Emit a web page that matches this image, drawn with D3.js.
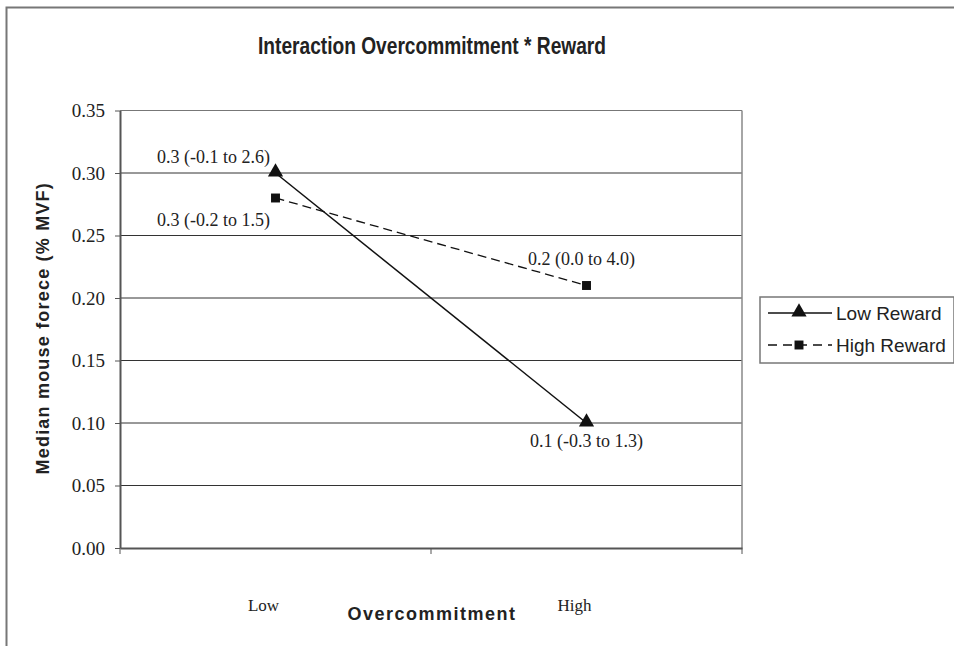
<!DOCTYPE html>
<html>
<head>
<meta charset="utf-8">
<script src="https://cdn.jsdelivr.net/npm/d3@7"></script>
<style>
  body { margin: 0; background: #fff; }
</style>
</head>
<body>
<script>
// chart values
var categories = ["Low", "High"];
var seriesNames = ["Low Reward", "High Reward"];
var lowReward = [0.30, 0.10];
var highReward = [0.28, 0.21];
var lowRewardLabels = ["0.3 (-0.1 to 2.6)", "0.1 (-0.3 to 1.3)"];
var highRewardLabels = ["0.3 (-0.2 to 1.5)", "0.2 (0.0 to 4.0)"];
var yTicks = [0, 0.05, 0.10, 0.15, 0.20, 0.25, 0.30, 0.35];

var svgWidth = 954;
var svgHeight = 646;
var margin = { top: 110.5, right: 212, bottom: 98, left: 120 };
var width = svgWidth - margin.left - margin.right;
var height = svgHeight - margin.top - margin.bottom;

var svg = d3.select("body")
  .append("svg")
  .attr("width", svgWidth)
  .attr("height", svgHeight);

// outer frame
svg.append("rect")
  .attr("x", 6.5).attr("y", 7.5)
  .attr("width", 960).attr("height", 660)
  .attr("fill", "none")
  .attr("stroke", "#777")
  .attr("stroke-width", 2);

svg.append("text")
  .attr("x", 432).attr("y", 54)
  .attr("text-anchor", "middle")
  .attr("textLength", 348)
  .attr("lengthAdjust", "spacingAndGlyphs")
  .style("font-family", "Liberation Sans, Arial, sans-serif")
  .style("font-weight", "bold")
  .style("font-size", "23px")
  .attr("fill", "#222")
  .text("Interaction Overcommitment * Reward");

var g = svg.append("g")
  .attr("transform", "translate(" + margin.left + "," + margin.top + ")");

var x = d3.scaleBand().domain(categories).range([0, width]);
var y = d3.scaleLinear().domain([0, 0.35]).range([height, 0]);

// gridlines
g.selectAll(".grid")
  .data(yTicks.filter(function (d) { return d > 0; }))
  .enter()
  .append("line")
  .attr("x1", 0).attr("x2", width)
  .attr("y1", function (d) { return y(d); })
  .attr("y2", function (d) { return y(d); })
  .attr("stroke", function (d) { return d === 0.35 ? "#777" : "#333"; })
  .attr("stroke-width", 1);

// plot frame (right edge)
g.append("line")
  .attr("x1", width).attr("x2", width)
  .attr("y1", 0).attr("y2", height)
  .attr("stroke", "#888").attr("stroke-width", 1.5);

var leftAxis = d3.axisLeft(y)
  .tickValues(yTicks)
  .tickFormat(d3.format(".2f"))
  .tickSize(5)
  .tickSizeOuter(0);

var yAxis = g.append("g").call(leftAxis);
yAxis.select(".domain").attr("stroke", "#555").attr("stroke-width", 2);
yAxis.selectAll(".tick line").attr("stroke", "#555");
yAxis.selectAll(".tick text")
  .attr("x", -15)
  .style("font-family", "Liberation Serif, Times New Roman, serif")
  .style("font-size", "19px")
  .attr("fill", "#222");

var bottomAxis = d3.axisBottom(x).tickSize(0).tickSizeOuter(0);
var xAxis = g.append("g")
  .attr("transform", "translate(0," + height + ")")
  .call(bottomAxis);
xAxis.select(".domain").attr("stroke", "#555").attr("stroke-width", 2);
xAxis.selectAll(".tick text")
  .attr("dx", -12)
  .attr("y", 51)
  .style("font-family", "Liberation Serif, Times New Roman, serif")
  .style("font-size", "17px")
  .attr("fill", "#222");

// category separator ticks
g.selectAll(".sep")
  .data(categories.concat(["end"]))
  .enter()
  .append("line")
  .attr("x1", function (d, i) { return i * x.bandwidth(); })
  .attr("x2", function (d, i) { return i * x.bandwidth(); })
  .attr("y1", height).attr("y2", height + 6)
  .attr("stroke", "#555");

var cx = function (d, i) { return x(categories[i]) + x.bandwidth() / 2; };

var line = d3.line()
  .x(function (d, i) { return cx(d, i); })
  .y(function (d) { return y(d); });

g.append("path")
  .datum(lowReward)
  .attr("d", line)
  .attr("fill", "none")
  .attr("stroke", "#111")
  .attr("stroke-width", 1.5);

g.append("path")
  .datum(highReward)
  .attr("d", line)
  .attr("fill", "none")
  .attr("stroke", "#111")
  .attr("stroke-width", 1.3)
  .attr("stroke-dasharray", "9,5");

var tri = d3.symbol().type(d3.symbolTriangle).size(100);
var sq = d3.symbol().type(d3.symbolSquare).size(80);

g.selectAll(".tri")
  .data(lowReward)
  .enter()
  .append("path")
  .attr("d", tri)
  .attr("transform", function (d, i) { return "translate(" + cx(d, i) + "," + (y(d) - 1) + ")"; })
  .attr("fill", "#111");

g.selectAll(".sq")
  .data(highReward)
  .enter()
  .append("path")
  .attr("d", sq)
  .attr("transform", function (d, i) { return "translate(" + cx(d, i) + "," + y(d) + ")"; })
  .attr("fill", "#111");

// value labels
var labelFont = function (sel) {
  sel.attr("text-anchor", "middle")
    .style("font-family", "Liberation Serif, Times New Roman, serif")
    .style("font-size", "18px")
    .attr("fill", "#222");
};

g.selectAll(".lowLab")
  .data(lowReward)
  .enter()
  .append("text")
  .attr("x", function (d, i) { return i === 0 ? cx(d, i) - 62 : cx(d, i); })
  .attr("y", function (d, i) { return i === 0 ? y(d) - 10 : y(d) + 24; })
  .text(function (d, i) { return lowRewardLabels[i]; })
  .call(labelFont);

g.selectAll(".highLab")
  .data(highReward)
  .enter()
  .append("text")
  .attr("x", function (d, i) { return i === 0 ? cx(d, i) - 62 : cx(d, i) - 5; })
  .attr("y", function (d, i) { return i === 0 ? y(d) + 28 : y(d) - 21; })
  .text(function (d, i) { return highRewardLabels[i]; })
  .call(labelFont);

// axis titles
svg.append("text")
  .attr("transform", "rotate(-90)")
  .attr("x", -(margin.top + height / 2) + 1)
  .attr("y", 49)
  .attr("text-anchor", "middle")
  .style("font-family", "Liberation Sans, Arial, sans-serif")
  .style("font-weight", "bold")
  .style("font-size", "18px")
  .style("letter-spacing", "1.2px")
  .attr("fill", "#222")
  .text("Median mouse forece (% MVF)");

svg.append("text")
  .attr("x", 432)
  .attr("y", 620)
  .attr("text-anchor", "middle")
  .style("font-family", "Liberation Sans, Arial, sans-serif")
  .style("font-weight", "bold")
  .style("font-size", "18px")
  .style("letter-spacing", "1.5px")
  .attr("fill", "#222")
  .text("Overcommitment");

// legend
var legend = svg.append("g").attr("transform", "translate(760,297)");
legend.append("rect")
  .attr("width", 194).attr("height", 66)
  .attr("fill", "#fff")
  .attr("stroke", "#777").attr("stroke-width", 1.5);

seriesNames.forEach(function (name, i) {
  var ly = 16 + i * 32;
  legend.append("line")
    .attr("x1", 8).attr("x2", 72)
    .attr("y1", ly).attr("y2", ly)
    .attr("stroke", "#111")
    .attr("stroke-width", 1.3)
    .attr("stroke-dasharray", i === 0 ? null : "9,6");
  legend.append("path")
    .attr("d", i === 0 ? tri : sq)
    .attr("transform", "translate(39," + (i === 0 ? ly - 1 : ly) + ")")
    .attr("fill", "#111");
  legend.append("text")
    .attr("x", 76).attr("y", ly + 7)
    .style("font-family", "Liberation Sans, Arial, sans-serif")
    .style("font-size", "19px")
    .attr("fill", "#222")
    .text(name);
});
</script>
</body>
</html>
